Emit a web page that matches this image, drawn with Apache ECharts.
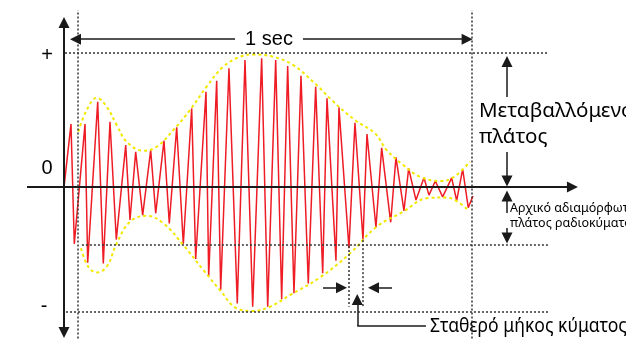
<!DOCTYPE html>
<html>
<head>
<meta charset="utf-8">
<script src="https://cdn.jsdelivr.net/npm/echarts@6/dist/echarts.min.js"></script>
<style>
  html, body { margin: 0; padding: 0; background: #fff; }
  #chart { width: 626px; height: 339px; }
</style>
</head>
<body>
<div id="chart"></div>
<script>
// time in ms (0 = start of the 1 sec window), amplitude in % of the "+" level
const carrierT = [-35.5, -17.8, -9.4, 17.8, 24.6, 50, 64.2, 81.2, 97.2, 121.1,
  132, 146.4, 164.2, 184.5, 197.2, 218.3, 231.7, 250.5, 267.3, 288.6,
  298.7, 324.9, 331.7, 352, 362.2, 383.2, 404.3, 423.9, 443.4, 466.2,
  481.5, 501.8, 517, 532.2, 548.2, 566, 584.5, 603.3, 621.1, 632,
  654.8, 662.4, 687.8, 703, 723.4, 733.5, 756.3, 770.8, 793.7, 807.1,
  827.4, 839.3, 857.9, 878.2, 890.9, 906.9, 925.6, 948.5, 961.2, 976.4,
  990.6, 1002.5];
const carrierA = [0, 47, -42.5, 47, -56.5, 63.7, -57, 48.7, -39.2, 31.3,
  -24.6, 26.3, -21, 27.6, -19.6, 34.6, -27.1, 44.6, -42.5, 58.7,
  -53.7, 71.1, -66.5, 79.3, -76.9, 88.6, -86.8, 94.8, -89.3, 96.2,
  -89.3, 94.8, -83.8, 90.3, -79.3, 83.1, -71.9, 74.9, -64.4, 66.2,
  -55, 59.5, -45.7, 48, -39.3, 39.6, -30.2, 29.3, -26.3, 22.2,
  -17.7, 14, -9.7, 6.9, -6, 4.5, -7.3, 6.9, -10.2, 13.4,
  -15.4, -6.7];

// envelope (modulating signal)
const upperT = [0.8, 22.1, 47.5, 72.8, 98.2, 123.6, 165.7, 199.7, 241.9, 284.3,
  326.6, 368.8, 411.2, 444.9, 495.7, 546.4, 605.8, 643.9, 703, 753.8,
  783.5, 825.6, 868, 918.8, 952.5, 994.9];
const upperA = [41.3, 57.5, 66.6, 59.9, 46.3, 33.8, 27.1, 30.1, 42.5, 57.5,
  74.9, 89.8, 97.2, 99, 97.2, 91, 76.1, 64.9, 50, 40.1,
  27.6, 16.4, 7.7, 4.5, 7.2, 18.9];
const lowerT = [7.6, 26.1, 47.5, 72.8, 98.2, 132, 174.4, 216.5, 267.3, 318,
  360.4, 402.8, 444.9, 487.3, 538.1, 614.2, 690.4, 758.1, 825.6, 885,
  935.8, 992.4];
const lowerA = [-45.7, -59.5, -63.7, -59.5, -42, -25.9, -21.4, -27.1, -43.3, -61.9,
  -76.9, -90.5, -92.5, -89.3, -80.6, -67.5, -49.5, -29.6, -18.4, -8.4,
  -7.8, -17.9];

// reference levels
const levelPlus = 100;
const levelCarrier = -42.9;
const levelMinus = -93.3;
const levelLabels = ['+', '0', '-'];

const zip = (xs, ys) => xs.map((x, i) => [x, ys[i]]);

const FONT = '"Liberation Sans", Arial, sans-serif';
const GREEK = '"Noto Sans", "Open Sans", sans-serif';
const INK = '#1a1a1a';
const dotted = { color: '#333', width: 1.5, type: [2, 2] };
const solid = { color: INK, width: 1.5, type: 'solid' };

// one line of the annotation layer
function seg(p, q, style, s0, s1, size) {
  return [
    { coord: p, symbol: s0 || 'none', symbolSize: size || 10, lineStyle: style },
    { coord: q, symbol: s1 || 'none', symbolSize: size || 10 }
  ];
}

const peakA = carrierT[42], peakB = carrierT[44];

const annot = [
  // axes
  seg([-35.5, -108.6], [-35.5, 122.8], { color: INK, width: 2 }, 'triangle', 'triangle', 11),
  seg([-129.4, 0], [1255, 0], { color: INK, width: 2 }, 'none', 'triangle', 11),
  // dotted guides
  seg([0, -113], [0, 132], dotted),
  seg([1000, -113], [1000, 132], dotted),
  seg([-33, levelPlus], [1193, levelPlus], dotted),
  seg([10, levelCarrier], [1193, levelCarrier], dotted),
  seg([-30.5, levelMinus], [1198, levelMinus], dotted),
  seg([peakA, -44], [peakA, -89.3], dotted),
  seg([peakB, -39.6], [peakB, -89.3], dotted),
  // 1 sec
  seg([398.5, 110.4], [-6.3, 110.4], solid, 'none', 'triangle', 11),
  seg([571, 110.4], [987.8, 110.4], solid, 'none', 'triangle', 11),
  // amplitude arrows on the right
  seg([1089, 67.2], [1089, 93.7], solid, 'none', 'triangle', 11),
  seg([1089, 26.1], [1089, 4.5], solid, 'none', 'triangle', 11),
  seg([1089, -19.4], [1089, -6.7], solid, 'none', 'triangle', 11),
  seg([1089, -30.6], [1089, -38.1], solid, 'none', 'triangle', 11),
  // constant wavelength
  seg([621.8, -75.1], [668.8, -75.1], solid, 'none', 'triangle', 11),
  seg([797, -75.1], [750, -75.1], solid, 'none', 'triangle', 11),
  seg([708.9, -103.7], [708.9, -84], solid, 'none', 'triangle', 11),
  seg([708.9, -103.7], [883.2, -103.7], solid)
];

function txt(text, x, y, size, align, family, sx) {
  return {
    type: 'text', x: x, y: y, silent: true, scaleX: sx || 1,
    style: { text: text, font: size + 'px ' + (family || FONT), fill: '#000',
      textAlign: align || 'left', textVerticalAlign: 'middle' }
  };
}

const chart = echarts.init(document.getElementById('chart'));
chart.setOption({
  animation: false,
  grid: { left: 0, right: 0, top: 0, bottom: 0 },
  xAxis: { type: 'value', min: -198, max: 1391, show: false },
  yAxis: { type: 'value', min: -113.4, max: 139.6, show: false },
  series: [
    {
      type: 'line', data: zip(carrierT, carrierA), symbol: 'none',
      lineStyle: { color: '#ee1c25', width: 1.5 }, z: 2
    },
    {
      type: 'line', data: zip(upperT, upperA), symbol: 'none', smooth: 0.4,
      lineStyle: { color: '#f2e800', width: 2, type: [3, 3] }, z: 3
    },
    {
      type: 'line', data: zip(lowerT, lowerA), symbol: 'none', smooth: 0.4,
      lineStyle: { color: '#f2e800', width: 2, type: [3, 3] }, z: 3
    },
    {
      type: 'line', data: [], z: 4,
      markLine: {
        silent: true, animation: false, symbol: ['none', 'none'],
        label: { show: false }, emphasis: { disabled: true },
        lineStyle: solid, data: annot
      }
    }
  ],
  graphic: [
    txt(levelLabels[0], 47, 55, 20, 'center'),
    txt(levelLabels[1], 47, 168, 20, 'center'),
    txt(levelLabels[2], 44, 306, 20, 'center'),
    txt('1 sec', 269, 39, 20, 'center'),
    txt('Μεταβαλλόμενο', 479, 111, 20.5, 'left', GREEK),
    txt('πλάτος', 479, 137.5, 20.5, 'left', GREEK),
    txt('Αρχικό αδιαμόρφωτο', 510, 208.5, 12.5, 'left', GREEK),
    txt('πλάτος ραδιοκύματος', 510, 223, 12.5, 'left', GREEK),
    txt('Σταθερό μήκος κύματος', 430, 326, 19.5, 'left', GREEK, 0.9)
  ]
});
</script>
</body>
</html>
